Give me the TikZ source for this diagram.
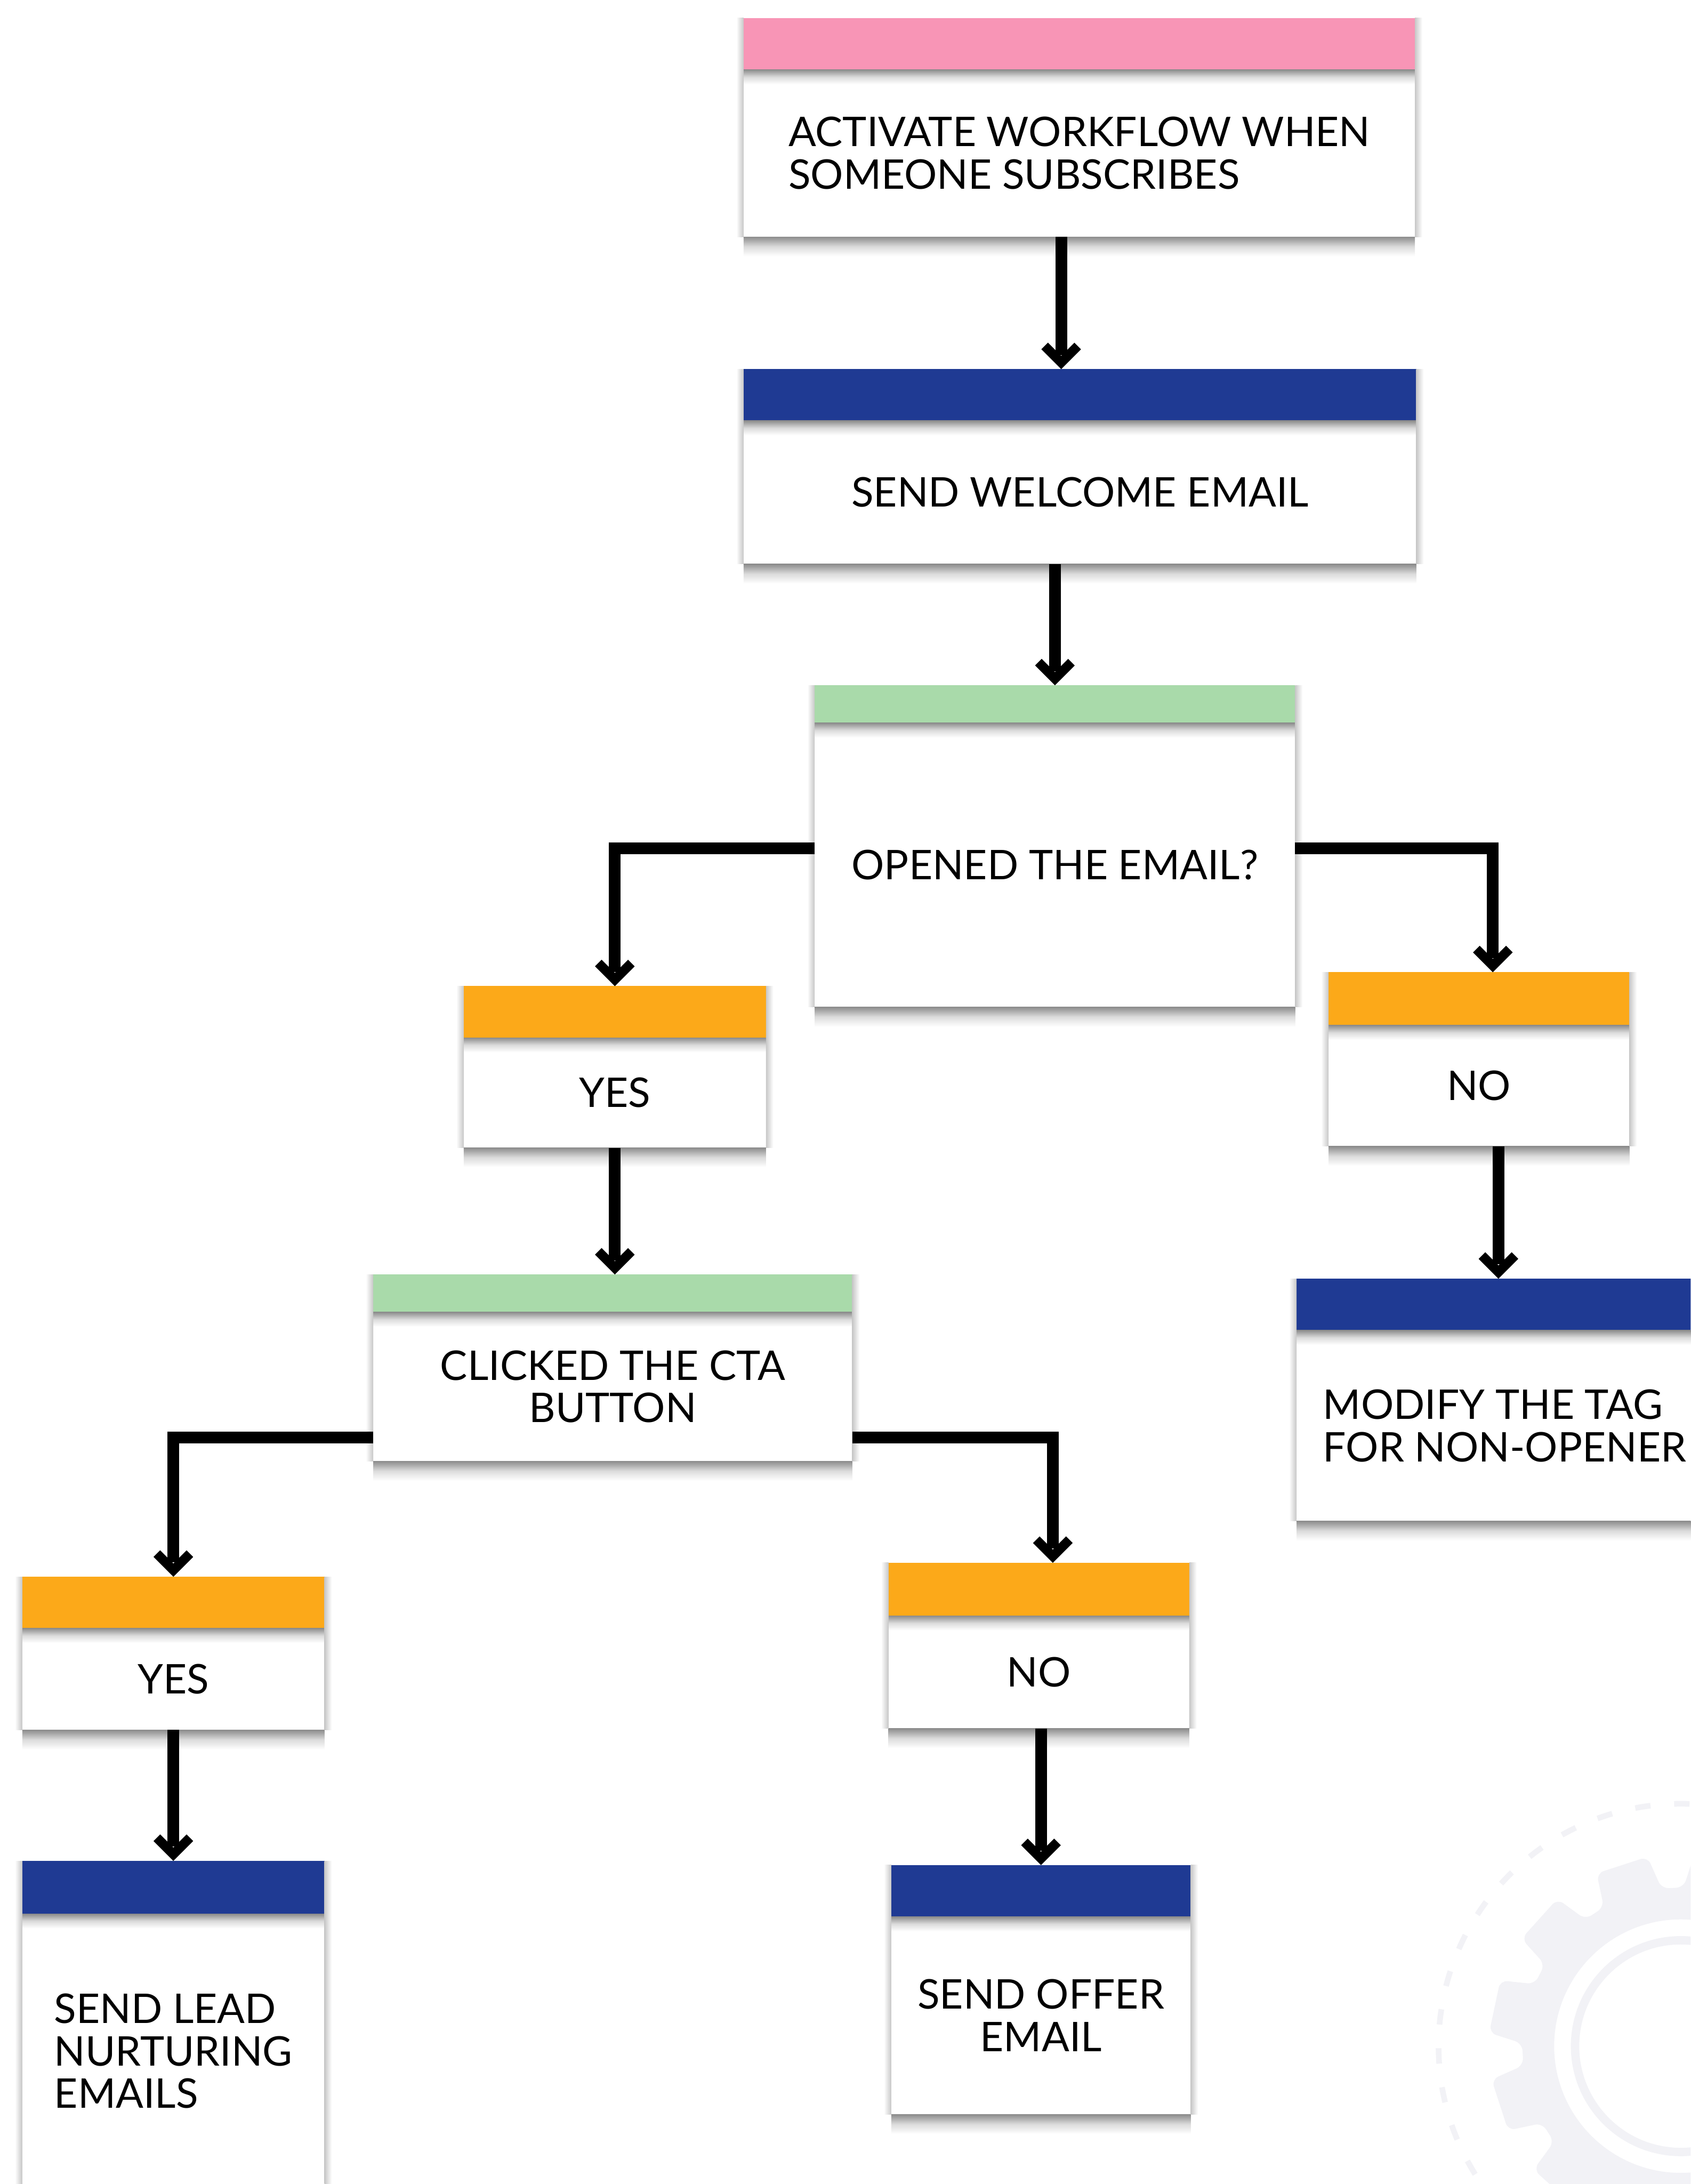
\documentclass[tikz,border=0pt]{standalone}
\usepackage{fontspec}
\setmainfont{Lato}
\usetikzlibrary{arrows.meta,fit}

\definecolor{pinkbar}{HTML}{F895B6}
\definecolor{bluebar}{HTML}{1F3A93}
\definecolor{greenbar}{HTML}{A9DAAA}
\definecolor{orangebar}{HTML}{FCA919}
\definecolor{gearc}{HTML}{F2F2F6}

% thick chevron tip
\pgfdeclarearrow{
  name = Chev,
  setup code = {
    \pgfarrowssettipend{0pt}
    \pgfarrowssetlineend{-5.8pt}
    \pgfarrowssetbackend{-10.8pt}
    \pgfarrowshullpoint{0pt}{0pt}
    \pgfarrowshullpoint{-10.8pt}{8.1pt}
    \pgfarrowshullpoint{-10.8pt}{-8.1pt}
  },
  drawing code = {
    \pgfpathmoveto{\pgfqpoint{0pt}{0pt}}
    \pgfpathlineto{\pgfqpoint{-8.1pt}{8.1pt}}
    \pgfpathlineto{\pgfqpoint{-10.8pt}{5.4pt}}
    \pgfpathlineto{\pgfqpoint{-5.4pt}{0pt}}
    \pgfpathlineto{\pgfqpoint{-10.8pt}{-5.4pt}}
    \pgfpathlineto{\pgfqpoint{-8.1pt}{-8.1pt}}
    \pgfpathclose
    \pgfusepathqfill
  }
}

\begin{document}
\begin{tikzpicture}[x=0.02cm, y=-0.02cm,
  card/.style 2 args={fill=white, inner sep=0pt, outer sep=0pt, align=center,
    font=\fontsize{16.7}{17.4}\selectfont,
    minimum width=#1*0.02cm, minimum height=#2*0.02cm},
  bar/.style={inner sep=0pt, outer sep=0pt},
  flow/.style={line width=4.8pt, -Chev},
  softshade/.style={top color=black!45, bottom color=white, middle color=black!14}]

\useasboundingbox (0,0) rectangle (1214,1568);
\clip (0,0) rectangle (1214,1568);
\fill[white] (0,0) rectangle (1214,1568);

% gear in the corner
\begin{scope}[shift={(1207,1469)}]
  \fill[gearc, even odd rule, rounded corners=3pt] (1:114)
    \foreach \a in {12,42,...,342} {
      -- ({\a-8}:138) -- ({\a+8}:138) -- ({\a+11}:114) -- ({\a+19}:114)
    } -- cycle
    (0,0) circle[radius=91];
  \fill[gearc, even odd rule] (0,0) circle[radius=79] circle[radius=73];
  \draw[gearc, line width=2.3pt, dash pattern=on 6.3pt off 9.7pt] (0,0) circle[radius=174];
\end{scope}

\node[card={482}{120}, align=left] (act) at (775,110) {ACTIVATE WORKFLOW WHEN\\SOMEONE SUBSCRIBES};
\node[bar, fill=pinkbar, fit={(534,13) (1016,50)}] (act-h) {};

\node[card={483}{103}] (wel) at (775.5,353.5) {SEND WELCOME EMAIL};
\node[bar, fill=bluebar, fit={(534,265) (1017,302)}] (wel-h) {};

\node[card={345}{204}] (opn) at (757.5,621) {OPENED THE EMAIL?};
\node[bar, fill=greenbar, fit={(585,492) (930,519)}] (opn-h) {};

\node[card={217}{79}] (yes1) at (441.5,784.5) {YES};
\node[bar, fill=orangebar, fit={(333,708) (550,745)}] (yes1-h) {};

\node[card={216}{87}] (no1) at (1062,779.5) {NO};
\node[bar, fill=orangebar, fit={(954,698) (1170,736)}] (no1-h) {};

\node[card={344}{107}] (cta) at (440,995.5) {CLICKED THE CTA\\BUTTON};
\node[bar, fill=greenbar, fit={(268,915) (612,942)}] (cta-h) {};

\node[card={299}{137}, align=left] (mod) at (1080.5,1023.5) {MODIFY THE TAG\\FOR NON-OPENER};
\node[bar, fill=bluebar, fit={(931,918) (1230,955)}] (mod-h) {};

\node[card={217}{73}] (yes2) at (124.5,1205.5) {YES};
\node[bar, fill=orangebar, fit={(16,1132) (233,1169)}] (yes2-h) {};

\node[card={216}{81}] (no2) at (746,1200.5) {NO};
\node[bar, fill=orangebar, fit={(638,1122) (854,1160)}] (no2-h) {};

\node[card={217}{197}, align=left] (lead) at (124.5,1472.5) {SEND LEAD\\NURTURING\\EMAILS};
\node[bar, fill=bluebar, fit={(16,1336) (233,1374)}] (lead-h) {};

\node[card={215}{142}] (offer) at (747.5,1447) {SEND OFFER\\EMAIL};
\node[bar, fill=bluebar, fit={(640,1339) (855,1376)}] (offer-h) {};

% shadows
\foreach \nm in {act,wel,opn,yes1,no1,cta,mod,yes2,no2,lead,offer} {
  \shade[softshade] (\nm.south west) rectangle ([yshift=-8pt]\nm.south east);
  \shade[softshade] (\nm-h.south west) rectangle ([yshift=-6pt]\nm-h.south east);
  \shade[left color=white, right color=black!22] ([xshift=-3pt]\nm-h.north west) rectangle (\nm.south west);
  \shade[left color=black!22, right color=white] (\nm-h.north east) rectangle ([xshift=3pt]\nm.south east);
}

\draw[flow] (762,0 |- act.south) -- (762,0 |- wel-h.north);
\draw[flow] (wel.south -| opn-h.north) -- (opn-h.north);
\draw[flow] (opn.west |- 0,609) -| (yes1-h.north);
\draw[flow] (opn.east |- 0,609) -| (1072,0 |- no1-h.north);
\draw[flow] (1076,0 |- no1.south) -- (1076,0 |- mod-h.north);
\draw[flow] (yes1.south) -- (yes1.south |- cta-h.north);
\draw[flow] (cta.west |- 0,1032) -| (yes2-h.north);
\draw[flow] (cta.east |- 0,1032) -| (756,0 |- no2-h.north);
\draw[flow] (yes2.south) -- (lead-h.north);
\draw[flow] (no2.south -| offer-h.north) -- (offer-h.north);

\end{tikzpicture}
\end{document}
